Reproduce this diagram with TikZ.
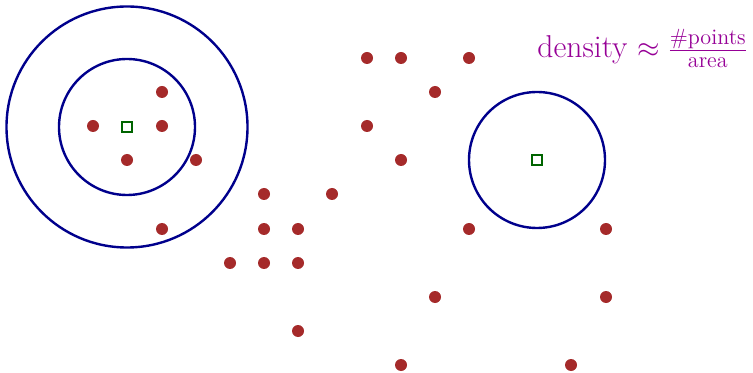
\documentclass[tikz,border=0pt]{standalone}
\usepackage{amsmath}
\definecolor{dotc}{RGB}{165,42,42}
\definecolor{circc}{RGB}{0,0,140}
\definecolor{sqc}{RGB}{0,100,0}
\definecolor{txtc}{RGB}{150,0,150}
\begin{document}
\begin{tikzpicture}[x=0.5pt,y=-0.5pt,
  pt/.style={circle,fill=dotc,inner sep=0pt,minimum size=6pt},
  ctr/.style={draw=sqc,line width=1pt,fill=white,inner sep=0pt,minimum size=5pt},
  ring/.style={draw=circc,line width=1.2pt}]
\useasboundingbox (0,0) rectangle (753,373);
% dots
\foreach \x/\y [count=\i] in {367/58,401/58,469/58,
  162/92,435/92,
  93/126,162/126,367/126,
  127/160,196/160,401/160,
  264/194,332/194,
  162/229,264/229,298/229,469/229,606/229,
  230/263,264/263,298/263,
  435/297,606/297,
  298/331,
  401/365,571/365}
  \node[pt] (p\i) at (\x,\y) {};
% circles
\node[ring,circle,minimum size=120.5pt,inner sep=0pt] (big) at (127,127) {};
\node[ring,circle,minimum size=68pt,inner sep=0pt] (small) at (127,127) {};
\node[ring,circle,minimum size=68pt,inner sep=0pt] (right) at (537,160) {};
% centers
\node[ctr] (c1) at (127,127) {};
\node[ctr] (c2) at (537,160) {};
% label
\node[anchor=base west,inner sep=0pt,text=txtc,font=\fontsize{15.8}{19}\selectfont] (lbl) at (537,58)
  {density $\approx \frac{\text{\#points}}{\text{area}}$};
\end{tikzpicture}
\end{document}
